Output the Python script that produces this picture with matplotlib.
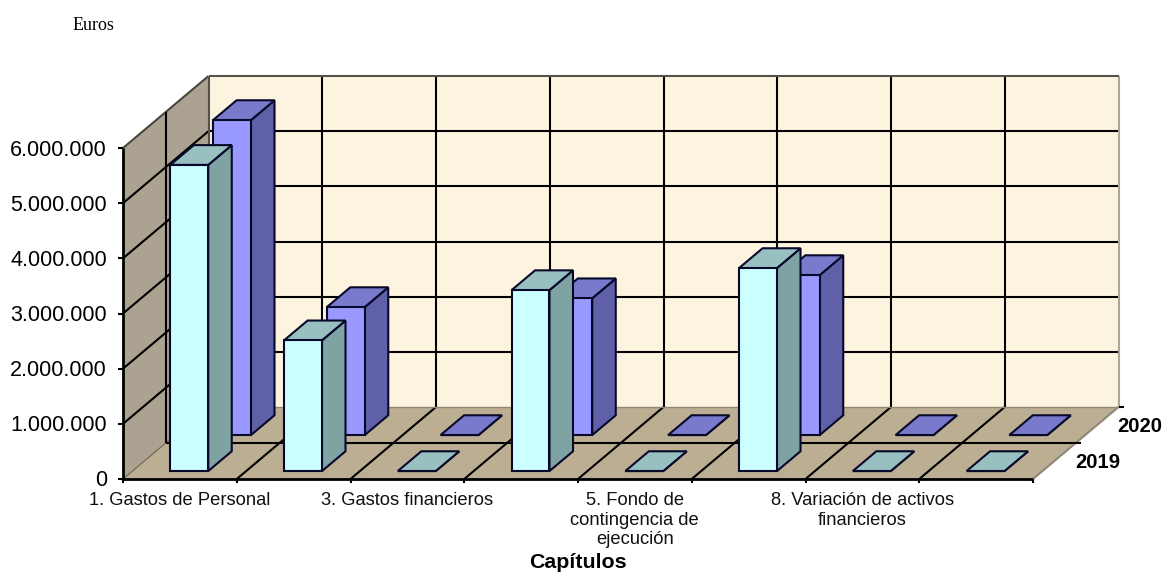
import matplotlib
matplotlib.use('Agg')
import matplotlib.pyplot as plt
from matplotlib.patches import Polygon

plt.rcParams['font.family'] = ['Liberation Sans', 'DejaVu Sans']

# valores
categorias = ['1. Gastos de Personal', '', '3. Gastos financieros', '',
              '5. Fondo de\ncontingencia de\nejecución', '',
              '8. Variación de activos\nfinancieros', '']
serie_2019 = [5550000, 2370000, 0, 3280000, 0, 3680000, 0, 0]
serie_2020 = [5710000, 2320000, 0, 2480000, 0, 2900000, 0, 0]
ticks_y = [0, 1000000, 2000000, 3000000, 4000000, 5000000, 6000000]
series = ['2019', '2020']

# geometria del "3D" de excel, en pixeles
X0, Y0 = 123, 479
ANCHO_CAT = 113.75
DX, DY = 85.5, 72
PX_POR_UNIDAD = 331 / 6000000
LW = 1.5


def proy(cat, prof, valor=0):
    x = X0 + cat * ANCHO_CAT + prof * DX
    y = Y0 - prof * DY - valor * PX_POR_UNIDAD
    return x, y


def poligono(ax, puntos, color, borde='black', lw=LW, z=1):
    ax.add_patch(Polygon(puntos, closed=True, facecolor=color, edgecolor=borde,
                         linewidth=lw, joinstyle='miter', zorder=z))


def linea(ax, a, b, color='black', lw=LW, z=2):
    ax.plot([a[0], b[0]], [a[1], b[1]], color=color, lw=lw, zorder=z,
            solid_capstyle='butt')


def barra(ax, cat, serie, valor, colores, z):
    c0, c1 = cat + 1 / 3, cat + 2 / 3
    p0, p1 = serie * 0.5 + 0.11, serie * 0.5 + 0.385
    borde = '#08082a'
    # lateral, techo y frente
    poligono(ax, [proy(c1, p0, 0), proy(c1, p1, 0), proy(c1, p1, valor), proy(c1, p0, valor)],
             colores[1], borde, z=z)
    poligono(ax, [proy(c0, p0, valor), proy(c1, p0, valor), proy(c1, p1, valor), proy(c0, p1, valor)],
             colores[2], borde, z=z)
    poligono(ax, [proy(c0, p0, 0), proy(c1, p0, 0), proy(c1, p0, valor), proy(c0, p0, valor)],
             colores[0], borde, z=z)


fig = plt.figure(figsize=(11.65, 5.72), dpi=100)
ax = fig.add_axes([0, 0, 1, 1])
ax.set_xlim(0, 1165)
ax.set_ylim(572, 0)
ax.axis('off')

n = len(categorias)
vmax = ticks_y[-1]

# paredes y suelo
poligono(ax, [proy(0, 1, 0), proy(n, 1, 0), proy(n, 1, vmax), proy(0, 1, vmax)],
         '#fdf4e0', 'none', z=0)
poligono(ax, [proy(0, 0, 0), proy(0, 1, 0), proy(0, 1, vmax), proy(0, 0, vmax)],
         '#aba292', 'none', z=0)
poligono(ax, [proy(0, 0, 0), proy(n, 0, 0), proy(n, 1, 0), proy(0, 1, 0)],
         '#bcae93', 'none', z=0)

# rejilla
for v in ticks_y:
    if 0 < v < vmax:
        linea(ax, proy(0, 0, v), proy(0, 1, v), z=1)
        linea(ax, proy(0, 1, v), proy(n, 1, v), z=1)
    linea(ax, (proy(0, 0, v)[0] - 5, proy(0, 0, v)[1]), proy(0, 0, v), z=1)
linea(ax, proy(0, 0, vmax), proy(0, 1, vmax), color='#4a473f', z=1)
linea(ax, proy(0, 0, 0), proy(0, 1, 0), color='#6b6250', lw=0.8, z=1)
for i in range(1, n + 1):
    if i == n:
        linea(ax, proy(i, 0, 0), proy(i, 1, 0), color='#8f8878', z=1)
    else:
        linea(ax, proy(i, 0, 0), proy(i, 1, 0), z=1)
        linea(ax, proy(i, 1, 0), proy(i, 1, vmax), z=1)
for i in range(n + 1):
    x, y = proy(i, 0, 0)
    linea(ax, (x, y), (x, y + 4), z=1)
linea(ax, proy(0, 1, 0), proy(0, 1, vmax), color='#55524a', z=1)
linea(ax, proy(n, 1, 0), proy(n, 1, vmax), color='#a9a69c', z=1)
linea(ax, proy(0, 1, vmax), proy(n, 1, vmax), color='#55524a', z=1)
linea(ax, proy(0, 1, 0), proy(n, 1, 0), color='#8f8878', lw=1.0, z=1)
linea(ax, proy(0, 0.5, 0), proy(0, 0.5, vmax), z=1)
linea(ax, proy(0, 0.5, 0), proy(n, 0.5, 0), z=1)
linea(ax, proy(0, 0, 0), proy(n, 0, 0), lw=2.0, z=1)
linea(ax, proy(0, 0, 0), proy(0, 0, vmax), lw=2.0, z=1)
linea(ax, proy(n, 1, 0), (proy(n, 1, 0)[0] + 5, proy(n, 1, 0)[1]), z=1)
linea(ax, proy(n, 0.5, 0), (proy(n, 0.5, 0)[0] + 5, proy(n, 0.5, 0)[1]), z=1)

# barras: primero la serie de atras
colores_2019 = ('#ccffff', '#7fa3a3', '#99c0c0')
colores_2020 = ('#9999ff', '#6060a8', '#7a7acc')
for i, v in enumerate(serie_2020):
    barra(ax, i, 1, v, colores_2020, 3 + i * 0.01)
for i, v in enumerate(serie_2019):
    barra(ax, i, 0, v, colores_2019, 4 + i * 0.01)

# textos
for v in ticks_y:
    x, y = proy(0, 0, v)
    ax.text(x - 16, y + 2, f'{v:,}'.replace(',', '.'), ha='right', va='center', fontsize=15.5,
            color='black')
for i, c in enumerate(categorias):
    x, y = proy(i + 0.5, 0, 0)
    ax.text(x, y + 13, c, ha='center', va='top', fontsize=13.2, linespacing=1.2, color='#111111')
x, y = proy(n, 0.25, 0)
ax.text(x + 21, y + 2, series[0], ha='left', va='center', fontsize=14.6, fontweight='bold')
x, y = proy(n, 0.75, 0)
ax.text(x + 20, y + 2, series[1], ha='left', va='center', fontsize=14.6, fontweight='bold')
ax.text(578, 562, 'Capítulos', ha='center', va='center', fontsize=15.4, fontweight='bold')
ax.text(73, 26, 'Euros', ha='left', va='center', fontsize=13, family=['Liberation Serif'])

fig.savefig('out.png', dpi=100)
